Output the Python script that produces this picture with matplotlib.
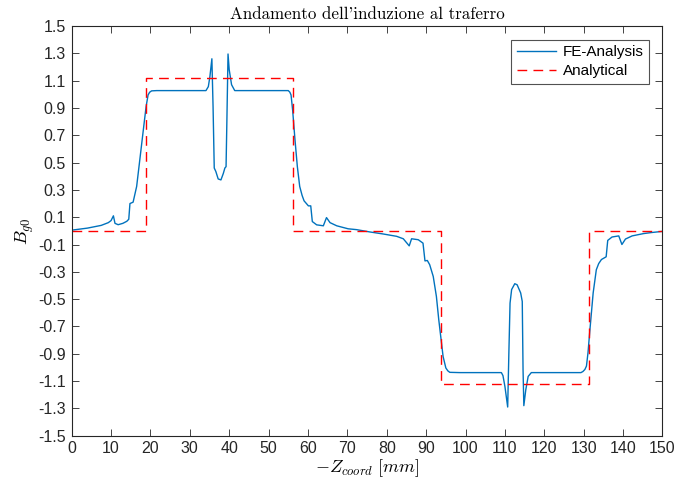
import numpy as np
import matplotlib
matplotlib.use("Agg")
import matplotlib.pyplot as plt

# === FE-analysis curve ===
fe_x = [0.0, 4.0, 7.5, 9.3, 10.0, 10.6, 11.0, 11.8, 13.0, 14.0, 14.5, 14.8, 15.6,
        16.5, 17.3, 18.2, 18.9, 19.4, 19.8, 20.3, 21.6, 34.1, 34.7, 35.1, 35.6, 35.9,
        36.2, 36.6, 37.2, 37.9, 38.5, 38.9, 39.2, 39.4, 39.7, 40.0, 40.6, 41.4,
        55.0, 55.4, 55.7, 56.1, 56.7, 57.3, 57.9, 58.5, 59.0, 60.1, 60.7, 61.1, 62.2, 63.9,
        64.7, 65.6, 67.3, 70.2, 72.3, 75.7, 79.1, 82.5, 84.2, 85.7, 86.3, 88.0,
        89.2, 89.7, 90.3, 90.9, 91.8, 92.6, 93.2, 93.7, 94.3, 95.0, 95.5, 96.0, 98.6,
        109.1, 109.5, 110.0, 110.7, 111.0, 111.3, 111.7, 112.5, 113.1, 114.0,
        114.4, 114.6, 114.8, 115.3, 115.9, 116.7, 129.3, 129.8, 130.3, 130.7, 131.1,
        131.5, 132.4, 133.2, 133.8, 134.5, 135.7, 136.1, 137.2, 138.9, 139.7, 140.6,
        142.3, 145.2, 147.3, 150.0]
fe_y = [0.005, 0.02, 0.04, 0.06, 0.075, 0.11, 0.055, 0.045, 0.055, 0.07, 0.085, 0.20, 0.21,
        0.325, 0.52, 0.74, 0.91, 0.995, 1.015, 1.025, 1.027, 1.027, 1.056, 1.13, 1.26, 0.91,
        0.46, 0.435, 0.38, 0.373, 0.42, 0.46, 0.47, 0.79, 1.295, 1.18, 1.07, 1.027,
        1.027, 1.015, 0.995, 0.885, 0.666, 0.47, 0.325, 0.26, 0.22, 0.183, 0.183, 0.068, 0.044, 0.037,
        0.097, 0.06, 0.037, 0.015, 0.009, -0.008, -0.023, -0.04, -0.058, -0.11, -0.058, -0.065,
        -0.09, -0.22, -0.217, -0.248, -0.334, -0.48, -0.65, -0.773, -0.92, -1.004, -1.025, -1.036, -1.038,
        -1.038, -1.06, -1.14, -1.29, -0.894, -0.529, -0.43, -0.387, -0.395, -0.455,
        -0.517, -1.016, -1.28, -1.163, -1.066, -1.038, -1.038, -1.03, -1.015, -0.99, -0.89,
        -0.75, -0.455, -0.285, -0.24, -0.21, -0.19, -0.07, -0.045, -0.037, -0.10, -0.06,
        -0.037, -0.02, -0.012, -0.004]

# === Analytical (step) ===
an_x = [0, 18.75, 56.25, 93.75, 131.25, 150]
an_y = [0, 1.12, 0, -1.125, 0, 0]

xticks = np.arange(0, 151, 10)
yticks = [1.5, 1.3, 1.1, 0.9, 0.7, 0.5, 0.3, 0.1, -0.1, -0.3, -0.5, -0.7, -0.9, -1.1, -1.3, -1.5]
ylabels = ["1.5", "1.3", "1.1", "0.9", "0.7", "0.5", "0.3", "0.1",
           "-0.1", "-0.3", "-0.5", "-0.7", "-0.9", "-1.1", "-1.3", "-1.5"]

plt.rcParams['font.family'] = ['Liberation Sans', 'DejaVu Sans']
plt.rcParams['mathtext.fontset'] = 'cm'

axcol = (0.15, 0.15, 0.15)

fig = plt.figure(figsize=(6.76, 4.86), dpi=100)
ax = fig.add_axes([0.106, 0.1035, 0.874, 0.843])

ax.plot(fe_x, fe_y, color=(0, 0.447, 0.741), lw=1.0, label='FE-Analysis')
ax.step(an_x, an_y, where='post', color='r', lw=1.0, linestyle=(0, (7, 4.5)), label='Analytical')

ax.set_xlim(0, 150)
ax.set_ylim(-1.5, 1.5)
ax.set_xticks(xticks)
ax.set_yticks(yticks)
ax.set_yticklabels(ylabels)

ax.tick_params(direction='in', top=True, right=True, length=5, width=0.6,
               colors=axcol, labelsize=11.5, pad=4)
for s in ax.spines.values():
    s.set_color(axcol)
    s.set_linewidth(0.8)

ax.set_title("Andamento dell'induzione al traferro", fontfamily='cmr10',
             fontsize=12.2, color='k', pad=5)
ax.set_xlabel(r'$-Z_{coord}\ [mm]$', fontsize=13, labelpad=1)
ax.set_ylabel(r'$B_{g0}$', fontsize=13, labelpad=2)

leg = ax.legend(loc='upper right', fontsize=11, frameon=True, fancybox=False,
                handlelength=2.6, borderaxespad=0.9, borderpad=0.35,
                labelspacing=0.35, handletextpad=0.4)
leg.get_frame().set_edgecolor(axcol)
leg.get_frame().set_linewidth(0.8)

fig.savefig("out.png", dpi=100)
